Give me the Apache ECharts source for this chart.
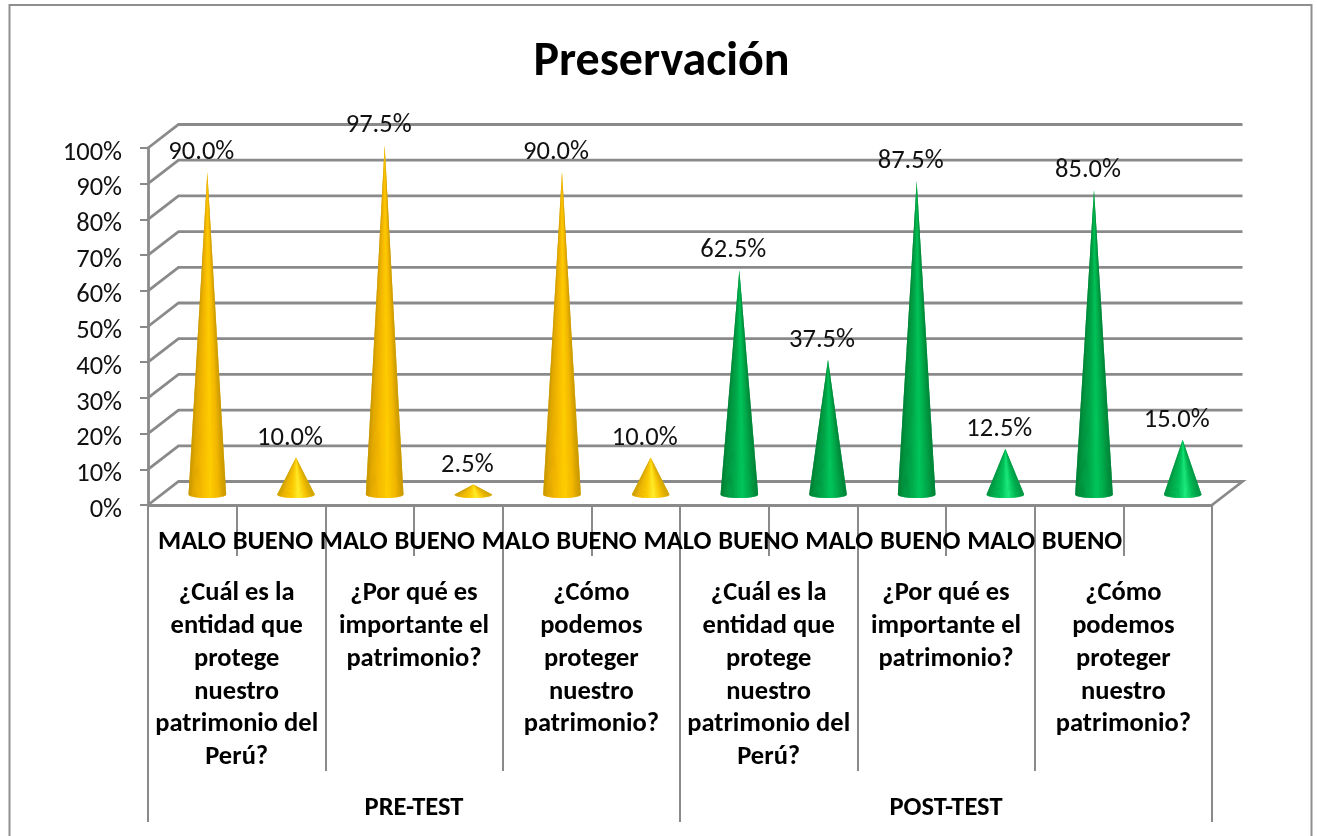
<!DOCTYPE html>
<html>
<head>
<meta charset="utf-8">
<style>html,body{margin:0;padding:0;background:#fff}#c{width:1317px;height:836px}</style>
<script src="https://cdn.jsdelivr.net/npm/echarts@6/dist/echarts.min.js"></script>
</head>
<body>
<div id="c"></div>
<script>
const titleText = 'Preservación';
const answerLabels = ['MALO','BUENO','MALO','BUENO','MALO','BUENO','MALO','BUENO','MALO','BUENO','MALO','BUENO'];
const questionLabels = [
  '¿Cuál es la\nentidad que\nprotege\nnuestro\npatrimonio del\nPerú?',
  '¿Por qué es\nimportante el\npatrimonio?',
  '¿Cómo\npodemos\nproteger\nnuestro\npatrimonio?',
  '¿Cuál es la\nentidad que\nprotege\nnuestro\npatrimonio del\nPerú?',
  '¿Por qué es\nimportante el\npatrimonio?',
  '¿Cómo\npodemos\nproteger\nnuestro\npatrimonio?'
];
const groupLabels = ['PRE-TEST','POST-TEST'];
const yTicks = [0,10,20,30,40,50,60,70,80,90,100];
const preTest  = [90.0,10.0,97.5,2.5,90.0,10.0];
const postTest = [62.5,37.5,87.5,12.5,85.0,15.0];

const FONT = 'Carlito, Calibri, Lato, sans-serif';
const GREY = '#8a8a8a';
const DEPTH_X = 30.5, DEPTH_Y = 23.5;
const MID_X = 15, TIP_DY = 11.7, BASE_DY = 10.5;

function lerp(a,b,f){return a+(b-a)*f;}
function hex(c){return [parseInt(c.slice(1,3),16),parseInt(c.slice(3,5),16),parseInt(c.slice(5,7),16)];}
function ramp(stops,f){
  for(let i=1;i<stops.length;i++){
    if(f<=stops[i][0]){
      const a=stops[i-1],b=stops[i],k=(f-a[0])/(b[0]-a[0]);
      const ca=hex(a[1]),cb=hex(b[1]);
      return 'rgb('+ca.map((v,j)=>Math.round(lerp(v,cb[j],k))).join(',')+')';
    }
  }
  return stops[stops.length-1][1];
}
const YEL = [[0,'#b08400'],[.12,'#dca200'],[.35,'#f5b800'],[.58,'#ffcf00'],[.8,'#f0b400'],[1,'#b48800']];
const YEL_B = [[0,'#b88a00'],[.15,'#e8ac00'],[.38,'#fbc800'],[.58,'#fff030'],[.78,'#f5c000'],[1,'#c09000']];
const GRN = [[0,'#006a2c'],[.12,'#008a3a'],[.35,'#00a548'],[.58,'#00c95c'],[.8,'#00a246'],[1,'#00702f']];
const GRN_B = [[0,'#007a33'],[.15,'#00a044'],[.38,'#00bf58'],[.58,'#20ee80'],[.78,'#00b652'],[1,'#008038']];

function coneRender(offset, normal, bright){
  return function(params, api){
    const idx = api.value(0), val = api.value(1);
    const cat = idx + offset;
    const front = api.coord([cat,0]);
    const topP = api.coord([cat,val]);
    const band = api.size([1,0])[0];
    const r = band*0.212, ry = 3.5;
    const cx = front[0]+MID_X, by = front[1]-BASE_DY, tipY = topP[1]-TIP_DY;
    const stops = val<20 ? bright : normal;
    const kids = [];
    const N = 44;
    const outline = [[cx,tipY]];
    for(let i=0;i<=N;i++){
      const t = Math.PI - Math.PI*i/N;
      outline.push([cx+r*Math.cos(t),by+ry*Math.sin(t)]);
    }
    kids.push({type:'polygon',shape:{points:outline},style:{fill:ramp(stops,0.45)},silent:true});
    for(let i=0;i<N;i++){
      const x0=outline[i+1][0],y0=outline[i+1][1],x1=outline[i+2][0],y1=outline[i+2][1];
      const col = ramp(stops,((x0+x1)/2-(cx-r))/(2*r));
      kids.push({type:'polygon',shape:{points:[[cx,tipY],[x0,y0],[x1,y1]]},
        style:{fill:col},silent:true});
    }
    kids.push({type:'text',x:cx-6,y:tipY-19.5,z2:20,style:{
      text:val.toFixed(1)+'%',fill:'#111',font:'26.5px '+FONT,align:'center',verticalAlign:'middle'}});
    return {type:'group',children:kids};
  };
}

const chart = echarts.init(document.getElementById('c'),null,{renderer:'canvas'});
const GRID_TOP=148, GRID_H=357;
const LABEL_BOLD={fontFamily:FONT,fontWeight:'bold',fontSize:26.5,color:'#000'};
chart.setOption({
  animation:false,
  backgroundColor:'#fff',
  title:{text:titleText,left:656.5,top:58,textAlign:'center',textVerticalAlign:'middle',
    textStyle:{fontFamily:FONT,fontWeight:'bold',fontSize:48,color:'#000'}},
  graphic:[{type:'rect',z:-10,shape:{x:9.5,y:5,width:1302,height:900},
    style:{fill:'none',stroke:'#8f8f8f',lineWidth:2},silent:true}],
  grid:[
    {left:148,width:1064,top:GRID_TOP,height:GRID_H},
    {left:151.5,width:971,top:GRID_TOP,height:GRID_H}
  ],
  xAxis:[
    {type:'category',gridIndex:0,data:answerLabels,boundaryGap:true,
      axisLine:{onZero:false,lineStyle:{color:GREY,width:2.8}},
      axisTick:{show:true,length:51,lineStyle:{color:GREY,width:2}},
      axisLabel:{show:false},splitLine:{show:false}},
    {type:'category',gridIndex:0,data:questionLabels,position:'bottom',
      axisLine:{show:false,onZero:false},
      axisTick:{show:true,length:266,lineStyle:{color:GREY,width:2}},
      axisLabel:Object.assign({interval:0,margin:72.5,hideOverlap:false,verticalAlign:'top',lineHeight:32.7,align:'center'},LABEL_BOLD),
      splitLine:{show:false}},
    {type:'category',gridIndex:0,data:groupLabels,position:'bottom',
      axisLine:{show:false,onZero:false},
      axisTick:{show:true,length:317,lineStyle:{color:GREY,width:2}},
      axisLabel:Object.assign({interval:0,margin:303,hideOverlap:false,verticalAlign:'middle',align:'center'},LABEL_BOLD),
      splitLine:{show:false}},
    {type:'category',gridIndex:1,data:answerLabels,position:'bottom',
      axisLine:{show:false,onZero:false},axisTick:{show:false},
      axisLabel:Object.assign({interval:0,margin:37,hideOverlap:false,verticalAlign:'middle',align:'center'},LABEL_BOLD),
      splitLine:{show:false}}
  ],
  yAxis:[
    {type:'value',gridIndex:0,min:0,max:100,interval:10,
      axisLine:{show:true,onZero:false,lineStyle:{color:GREY,width:2.8}},
      axisTick:{show:true,length:8,lineStyle:{color:GREY,width:2}},
      axisLabel:{formatter:'{value}%',margin:26,verticalAlign:'top',lineHeight:10,fontFamily:FONT,fontSize:26.5,color:'#111'},
      splitLine:{show:false}},
    {type:'value',gridIndex:1,min:0,max:100,show:false,splitLine:{show:false}}
  ],
  series:[
    {type:'custom',name:'walls',xAxisIndex:0,yAxisIndex:0,coordinateSystem:'cartesian2d',clip:false,z:1,silent:true,
      data:yTicks.map(v=>[0,v]),
      renderItem:function(params,api){
        const cs=params.coordSys, v=api.value(1), y=api.coord([0,v])[1];
        const x0=cs.x, x1=cs.x+cs.width;
        const pts=[[x0,y],[x0+DEPTH_X,y-DEPTH_Y],[x1+DEPTH_X,y-DEPTH_Y]];
        if(v===0) pts.push([x1,y]);
        return {type:'polyline',shape:{points:pts},style:{fill:'none',stroke:GREY,lineWidth:2.8}};
      }},
    {type:'custom',name:'PRE-TEST',xAxisIndex:0,yAxisIndex:0,clip:false,z:3,silent:true,
      data:preTest.map((v,i)=>[i,v]),renderItem:coneRender(0,YEL,YEL_B)},
    {type:'custom',name:'POST-TEST',xAxisIndex:0,yAxisIndex:0,clip:false,z:3,silent:true,
      data:postTest.map((v,i)=>[i,v]),renderItem:coneRender(6,GRN,GRN_B)}
  ]
});
</script>
</body>
</html>
